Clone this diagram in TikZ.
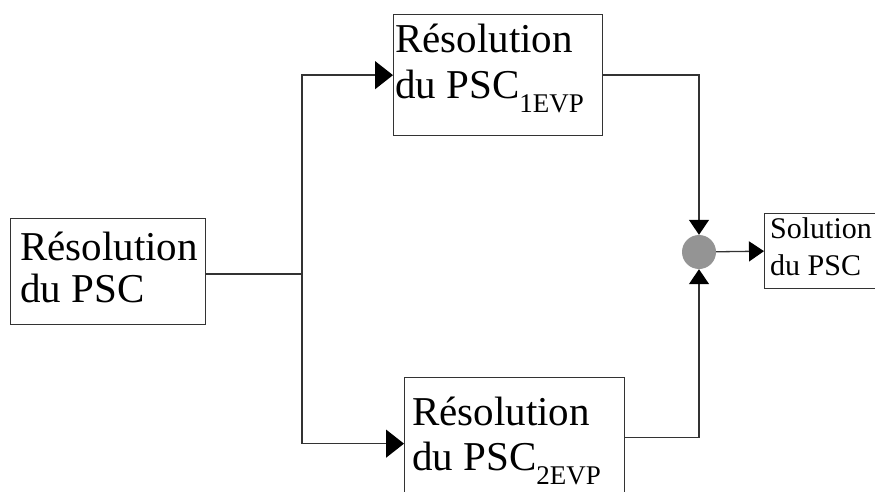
\documentclass[tikz,border=0pt]{standalone}
\usepackage{fontspec}
\setmainfont{Liberation Serif}
\usetikzlibrary{arrows.meta}
\tikzset{
  bloc/.style={draw=black!80, line width=1.3pt, fill=white, inner sep=0pt},
  lbl/.style={inner sep=0pt, anchor=base west, align=left, font=\fontsize{41}{46}\selectfont},
  petit/.style={lbl, font=\fontsize{30}{37}\selectfont},
  lien/.style={draw=black!80, line width=1.3pt},
  fleche/.style={lien, -{Triangle[length=18pt,width=28pt,color=black]}},
  pfleche/.style={lien, -{Triangle[length=15pt,width=20pt,color=black]}},
}
\newcommand{\indice}[1]{\raisebox{-14pt}{\fontsize{27}{27}\selectfont #1}}
\begin{document}
\begin{tikzpicture}[x=1pt,y=-1pt]
  \clip (0,0) rectangle (875,492);
  \fill[white] (0,0) rectangle (875,492);

  % boites
  \node[bloc, minimum width=195pt, minimum height=106pt, anchor=north west] (psc) at (10,218) {};
  \node[bloc, minimum width=209pt, minimum height=121pt, anchor=north west] (evp1) at (393,14) {};
  \node[bloc, minimum width=220pt, minimum height=132pt, anchor=north west] (evp2) at (404,377) {};
  \node[bloc, minimum width=140pt, minimum height=75pt, anchor=north west] (sol) at (764,213) {};
  \node[circle, fill=black!42, minimum size=34pt, inner sep=0pt] (join) at (699,252) {};

  % textes (ancre = ligne de base de la derniere ligne)
  \node[lbl, font=\fontsize{41}{42}\selectfont] (psc-txt) at (20,302) {Résolution\\du PSC};
  \node[lbl] (evp1-txt) at (395,99) {Résolution\\du PSC\indice{1EVP}};
  \node[lbl, font=\fontsize{41}{45}\selectfont] (evp2-txt) at (412,470) {Résolution\\du PSC\indice{2EVP}};
  \node[petit] (sol-txt) at (770,275) {Solution\\du PSC};

  % liens
  \coordinate (fork) at (302,274);
  \draw[lien] (psc.east |- fork) -- (fork);
  \draw[fleche] (fork) |- (evp1.west);
  \draw[fleche] (fork) |- (evp2.west);
  \draw[pfleche] (evp1.east) -| (join.north);
  \draw[pfleche] ([yshift=6pt]evp2.east) -| (join.south);
  \draw[pfleche] (join) -- (sol.west);
\end{tikzpicture}
\end{document}
